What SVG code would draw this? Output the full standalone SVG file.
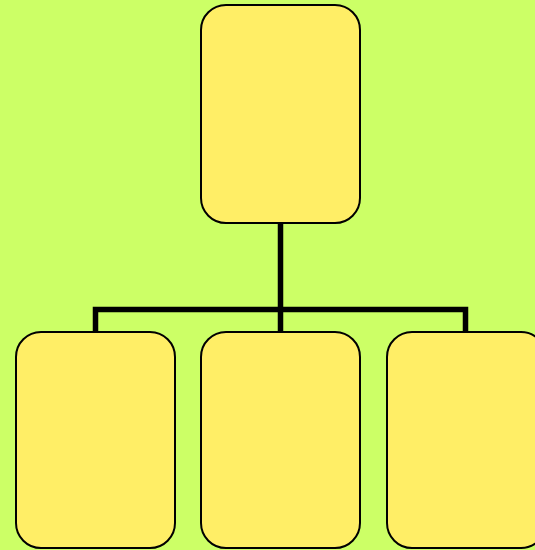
<svg xmlns="http://www.w3.org/2000/svg" width="535" height="550" viewBox="0 0 535 550">
<style>
.box{fill:#FFEE66;stroke:#000;stroke-width:2}
.conn{fill:none;stroke:#000;stroke-width:5.5;stroke-linejoin:miter}
</style>
<rect width="535" height="550" fill="#CCFF66"/>
<g id="connectors">
<path class="conn" d="M280.5,223 V309.5 M95.5,332 V309.5 H465.5 V332 M280.5,309.5 V332"/>
</g>
<g id="node-top"><rect class="box" x="201" y="5" width="159" height="218" rx="25" ry="25"/></g>
<g id="node-left"><rect class="box" x="16" y="332" width="159" height="216" rx="25" ry="25"/></g>
<g id="node-middle"><rect class="box" x="201" y="332" width="159" height="216" rx="25" ry="25"/></g>
<g id="node-right"><rect class="box" x="387" y="332" width="159" height="216" rx="25" ry="25"/></g>
</svg>
